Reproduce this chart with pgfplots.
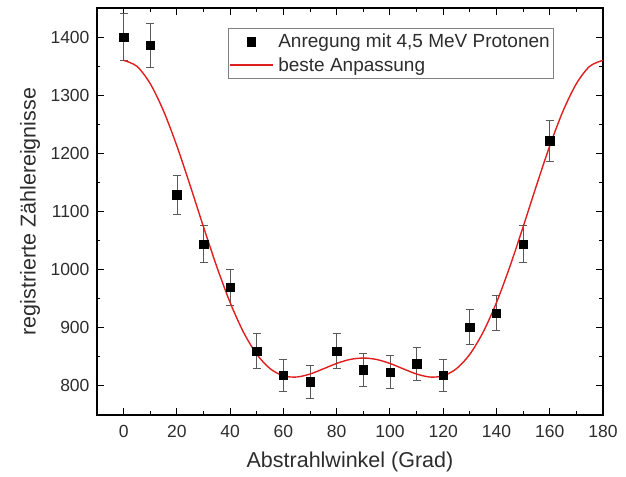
\documentclass[border=0pt]{standalone}
\usepackage{fontspec}
\setmainfont{Liberation Sans}
\usepackage{pgfplots}
\pgfplotsset{compat=1.18}

\pgfplotstableread{
x y e
0 1400 40
10 1386 38
20 1129 34
30 1044 32
40 970 31
50 860 30
60 818 28
70 807 28
80 860 30
90 828 28
100 824 28
110 838 28
120 818 28
130 901 30
140 925 30
150 1044 32
160 1222 35
}\messdata

% best fit curve
\pgfplotstableread{
x y
0 1360
5 1349.7
10 1319.8
15 1272.8
20 1212.7
25 1144.4
30 1073.4
35 1004.8
40 943.3
45 892.5
50 854.4
55 829.7
60 817.4
65 815.3
70 820.5
75 829.4
80 838.7
85 845.5
90 848
95 845.5
100 838.7
105 829.4
110 820.5
115 815.3
120 817.4
125 829.7
130 854.4
135 892.5
140 943.3
145 1004.8
150 1073.4
155 1144.4
160 1212.7
165 1272.8
170 1319.8
175 1349.7
180 1360
}\fitdata

\definecolor{fitred}{RGB}{225,30,30}
\definecolor{txt}{RGB}{45,45,45}

\begin{document}
\begin{tikzpicture}
\begin{axis}[
  scale only axis,
  width=506pt, height=407pt,
  xmin=-10, xmax=180,
  ymin=750, ymax=1450,
  xtick={0,20,...,180},
  ytick={800,900,...,1400},
  minor x tick num=1,
  minor y tick num=1,
  major tick length=7pt,
  minor tick length=3.5pt,
  axis line style={line width=1.1pt},
  every tick/.style={black, line width=1pt},
  /pgf/number format/assume math mode=true,
  /pgf/number format/1000 sep={},
  tick label style={font=\fontsize{17.5}{19}\selectfont, text=txt},
  yticklabel style={xshift=-4pt},
  xticklabel style={yshift=-7pt},
  xlabel={Abstrahlwinkel (Grad)},
  ylabel={registrierte Zählereignisse},
  label style={font=\fontsize{21.5}{24}\selectfont, text=txt},
  xlabel style={at={(rel axis cs:0.5,-0.1155)}, anchor=center},
  ylabel style={at={(rel axis cs:-0.1324,0.5)}, anchor=center},
  clip=false,
  legend cell align=left,
  legend style={at={(0.259,0.951)}, anchor=north west,
    draw=gray, inner xsep=1pt, inner ysep=4pt,
    font=\fontsize{19}{22}\selectfont,
    row sep=4pt, column sep=3pt},
]
\addplot[forget plot, only marks, mark=square*, mark size=4.2pt, black,
  error bars/.cd, y dir=both, y explicit,
  error bar style={gray!70!black, line width=0.7pt},
  error mark options={rotate=90, mark size=4pt, gray!70!black, line width=0.7pt}]
  table[x=x, y=y, y error=e] {\messdata};
\addplot[forget plot, fitred, line width=1.4pt, smooth, no marks]
  table[x=x, y=y] {\fitdata};
\addlegendimage{legend image code/.code={\fill[black] (0.75cm-4.2pt,-4.2pt) rectangle (0.75cm+4.2pt,4.2pt);}}
\addlegendentry{\textcolor{txt}{Anregung mit 4,5 MeV Protonen}}
\addlegendimage{legend image code/.code={\draw[draw=fitred, line width=1.4pt] (0cm,0cm) -- (1.5cm,0cm);}}
\addlegendentry{\textcolor{txt}{beste Anpassung}}
\path (rel axis cs:-0.1917,-0.1499) rectangle (rel axis cs:1.0455,1.0197);
\end{axis}
\end{tikzpicture}
\end{document}
